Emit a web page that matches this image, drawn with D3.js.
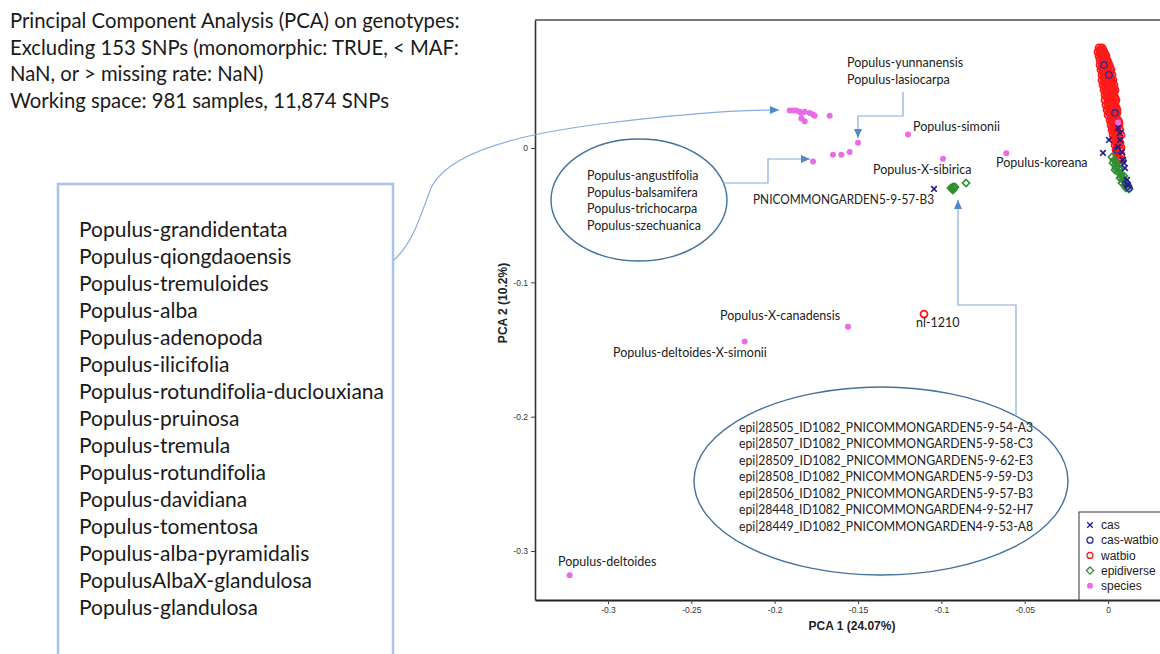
<!DOCTYPE html>
<html>
<head>
<meta charset="utf-8">
<script src="https://cdn.jsdelivr.net/npm/d3@7"></script>
<style>
  body { margin: 0; background: #fff; }
  svg { display: block; }
</style>
</head>
<body>
<div id="chart"></div>
<script>
const W = 1160, H = 654;

// ---- data (PCA 1, PCA 2) ----
const xTicks = [-0.3, -0.25, -0.2, -0.15, -0.1, -0.05, 0];
const yTicks = [0, -0.1, -0.2, -0.3];
const legendKeys = ["cas", "cas-watbio", "watbio", "epidiverse", "species"];

const species = [
  [-0.191, 0.028], [-0.189, 0.028], [-0.187, 0.028], [-0.185, 0.027], [-0.184, 0.026],
  [-0.182, 0.027], [-0.179, 0.026], [-0.177, 0.025], [-0.176, 0.024], [-0.184, 0.022],
  [-0.182, 0.020], [-0.167, 0.024],
  [-0.177, -0.010], [-0.165, -0.005], [-0.160, -0.005], [-0.155, -0.003], [-0.150, 0.004],
  [-0.120, 0.010], [-0.099, -0.008], [-0.061, -0.004],
  [-0.156, -0.133], [-0.218, -0.144], [-0.323, -0.318],
  [0.006, 0.019]
];

const watbio = [
  [-0.1104, -0.1236],
  [-0.0054, 0.0745], [-0.0036, 0.0745],
  [-0.0048, 0.0730], [-0.0030, 0.0730],
  [-0.0060, 0.0715], [-0.0042, 0.0715], [-0.0024, 0.0715],
  [-0.0048, 0.0700], [-0.0036, 0.0700], [-0.0018, 0.0700],
  [-0.0054, 0.0685], [-0.0030, 0.0685], [-0.0012, 0.0685],
  [-0.0042, 0.0670], [-0.0018, 0.0670],
  [-0.0048, 0.0655], [-0.0024, 0.0655], [-0.0006, 0.0655],
  [-0.0036, 0.0637], [-0.0018, 0.0637], [0.0000, 0.0637],
  [-0.0048, 0.0618], [-0.0030, 0.0618], [-0.0012, 0.0618], [0.0006, 0.0618],
  [-0.0036, 0.0600], [-0.0018, 0.0600], [0.0012, 0.0600],
  [-0.0042, 0.0581], [-0.0024, 0.0581], [0.0000, 0.0581], [0.0018, 0.0581],
  [-0.0030, 0.0563], [-0.0012, 0.0563], [0.0012, 0.0563],
  [-0.0036, 0.0544], [-0.0018, 0.0544], [0.0006, 0.0544], [0.0024, 0.0544],
  [-0.0024, 0.0525], [0.0000, 0.0525], [0.0018, 0.0525],
  [-0.0036, 0.0506], [-0.0012, 0.0506], [0.0012, 0.0506], [0.0030, 0.0506],
  [-0.0024, 0.0488], [0.0006, 0.0488], [0.0024, 0.0488],
  [-0.0030, 0.0469], [-0.0006, 0.0469], [0.0018, 0.0469], [0.0036, 0.0469],
  [-0.0018, 0.0450], [0.0012, 0.0450], [0.0030, 0.0450],
  [-0.0024, 0.0432], [0.0000, 0.0432], [0.0024, 0.0432], [0.0042, 0.0432],
  [-0.0012, 0.0413], [0.0012, 0.0413], [0.0036, 0.0413],
  [-0.0018, 0.0395], [0.0006, 0.0395], [0.0030, 0.0395],
  [-0.0006, 0.0376], [0.0018, 0.0376], [0.0042, 0.0376],
  [-0.0018, 0.0357], [0.0006, 0.0357], [0.0030, 0.0357], [0.0048, 0.0357],
  [0.0000, 0.0339], [0.0024, 0.0339], [0.0042, 0.0339],
  [-0.0012, 0.0320], [0.0012, 0.0320], [0.0036, 0.0320],
  [0.0000, 0.0302], [0.0024, 0.0302], [0.0048, 0.0302],
  [-0.0006, 0.0283], [0.0018, 0.0283], [0.0042, 0.0283], [0.0054, 0.0283],
  [0.0006, 0.0264], [0.0030, 0.0264], [0.0054, 0.0264],
  [0.0000, 0.0246], [0.0024, 0.0246], [0.0048, 0.0246],
  [0.0018, 0.0227], [0.0042, 0.0227],
  [0.0012, 0.0208], [0.0036, 0.0208], [0.0060, 0.0208],
  [0.0024, 0.0190], [0.0048, 0.0190], [0.0066, 0.0190],
  [0.0018, 0.0171], [0.0042, 0.0171], [0.0066, 0.0171],
  [0.0030, 0.0153], [0.0054, 0.0153],
  [0.0024, 0.0134], [0.0048, 0.0134], [0.0072, 0.0134],
  [0.0036, 0.0115], [0.0060, 0.0115],
  [0.0030, 0.0097], [0.0054, 0.0097], [0.0078, 0.0097],
  [0.0042, 0.0078], [0.0066, 0.0078],
  [0.0036, 0.0060], [0.0060, 0.0060],
  [0.0048, 0.0041], [0.0072, 0.0041],
  [0.0042, 0.0022], [0.0066, 0.0022],
  [0.0054, 0.0004], [0.0078, 0.0004],
  [0.0048, -0.0015], [0.0072, -0.0015],
  [0.0060, -0.0034],
  [0.0054, -0.0052], [0.0078, -0.0052],
  [0.0066, -0.0071],
  [0.0060, -0.0089], [0.0084, -0.0089]
];

const casWatbio = [
  [-0.0024, 0.0618], [0.0006, 0.0544], [0.0042, 0.0261], [0.0054, -0.0015],
  [0.0108, -0.0261], [0.0120, -0.0283], [0.0126, -0.0298]
];

const cas = [
  [-0.1044, -0.0305],
  [0.0060, 0.0149], [0.0072, 0.0112], [0.0006, 0.0060], [-0.0030, -0.0037],
  [0.0072, 0.0060], [0.0060, 0.0007], [0.0084, -0.0030], [0.0090, -0.0089],
  [0.0096, -0.0112], [0.0102, -0.0149], [0.0114, -0.0238], [0.0120, -0.0276]
];

const epidiverse = [
  [-0.0942, -0.0298], [-0.0936, -0.0305], [-0.0930, -0.0290], [-0.0924, -0.0298],
  [-0.0918, -0.0290], [-0.0930, -0.0313], [-0.0852, -0.0261],
  [0.0024, -0.0067], [0.0036, -0.0089], [0.0054, -0.0104], [0.0030, -0.0112],
  [0.0042, -0.0127], [0.0054, -0.0134], [0.0048, -0.0149], [0.0066, -0.0149],
  [0.0042, -0.0164], [0.0072, -0.0164], [0.0060, -0.0179], [0.0078, -0.0194],
  [0.0096, -0.0209], [0.0084, -0.0216], [0.0072, -0.0224], [0.0090, -0.0238],
  [0.0102, -0.0246], [0.0084, -0.0261], [0.0102, -0.0276], [0.0114, -0.0290],
  [0.0108, -0.0298], [0.0126, -0.0305]
];

const titleLines = [
  "Principal Component Analysis (PCA) on genotypes:",
  "Excluding 153 SNPs (monomorphic: TRUE, < MAF:",
  "NaN, or > missing rate: NaN)",
  "Working space: 981 samples, 11,874 SNPs"
];

const boxSpecies = [
  "Populus-grandidentata", "Populus-qiongdaoensis", "Populus-tremuloides", "Populus-alba",
  "Populus-adenopoda", "Populus-ilicifolia", "Populus-rotundifolia-duclouxiana",
  "Populus-pruinosa", "Populus-tremula", "Populus-rotundifolia", "Populus-davidiana",
  "Populus-tomentosa", "Populus-alba-pyramidalis", "PopulusAlbaX-glandulosa",
  "Populus-glandulosa"
];

const ovalSpecies = [
  "Populus-angustifolia", "Populus-balsamifera", "Populus-trichocarpa", "Populus-szechuanica"
];

const epiSamples = [
  "epi|28505_ID1082_PNICOMMONGARDEN5-9-54-A3",
  "epi|28507_ID1082_PNICOMMONGARDEN5-9-58-C3",
  "epi|28509_ID1082_PNICOMMONGARDEN5-9-62-E3",
  "epi|28508_ID1082_PNICOMMONGARDEN5-9-59-D3",
  "epi|28506_ID1082_PNICOMMONGARDEN5-9-57-B3",
  "epi|28448_ID1082_PNICOMMONGARDEN4-9-52-H7",
  "epi|28449_ID1082_PNICOMMONGARDEN4-9-53-A8"
];

// ---- colours ----
const colors = {
  cas: "#1c1c86",
  "cas-watbio": "#2a2a9a",
  watbio: "#ff1a1a",
  epidiverse: "#2f8f2f",
  species: "#ea6be6"
};
const lineBlue = "#86acde";
const arrowBlue = "#4d88d0";
const ovalBlue = "#41719c";
const textFont = "Lato, 'Open Sans', sans-serif";
const chartFont = "'Liberation Sans', Arial, sans-serif";

// ---- scales ----
const plot = { left: 535, top: 20, right: 1162, bottom: 600 };
const x = d3.scaleLinear().domain([-0.3, 0]).range([608, 1108]);
const y = d3.scaleLinear().domain([0, -0.3]).range([148, 551]);

const svg = d3.select("#chart").append("svg")
  .attr("width", W)
  .attr("height", H);

svg.append("rect").attr("width", W).attr("height", H).attr("fill", "#fff");

// arrow head marker
svg.append("defs").append("marker")
  .attr("id", "arrow")
  .attr("markerUnits", "userSpaceOnUse")
  .attr("markerWidth", 10).attr("markerHeight", 10)
  .attr("refX", 9).attr("refY", 5)
  .attr("orient", "auto")
  .append("path")
  .attr("d", "M0,1 L9,5 L0,9 Z")
  .attr("fill", arrowBlue);

// ---- left-hand text ----
svg.append("g")
  .selectAll("text")
  .data(titleLines)
  .join("text")
  .attr("x", 10)
  .attr("y", (d, i) => 28 + i * 26.6)
  .attr("font-family", textFont)
  .attr("font-size", 20.3)
  .attr("fill", "#1a1a1a")
  .text(d => d);

svg.append("rect")
  .attr("x", 58).attr("y", 184)
  .attr("width", 335).attr("height", 520)
  .attr("fill", "none")
  .attr("stroke", "#a9c3ea")
  .attr("stroke-width", 2.5);

svg.append("g")
  .selectAll("text")
  .data(boxSpecies)
  .join("text")
  .attr("x", 79)
  .attr("y", (d, i) => 236.5 + i * 27)
  .attr("font-family", textFont)
  .attr("font-size", 21)
  .attr("fill", "#1a1a1a")
  .text(d => d);

// ---- axes and frame ----
const fmt = d => String(+d.toFixed(2));

const xAxisScale = x.copy()
  .domain([x.invert(plot.left), x.invert(plot.right)])
  .range([plot.left, plot.right]);
const yAxisScale = y.copy()
  .domain([y.invert(plot.top), y.invert(plot.bottom)])
  .range([plot.top, plot.bottom]);

svg.append("line")
  .attr("x1", plot.left).attr("x2", plot.right)
  .attr("y1", plot.top).attr("y2", plot.top)
  .attr("stroke", "#7a7a7a")
  .attr("stroke-width", 2);

svg.append("g")
  .attr("transform", `translate(0,${plot.bottom})`)
  .call(d3.axisBottom(xAxisScale).tickValues(xTicks).tickSize(4).tickSizeOuter(0).tickFormat(fmt))
  .call(g => {
    g.attr("font-family", chartFont).attr("font-size", 8.5);
    g.select(".domain").attr("stroke", "#222").attr("stroke-width", 1.8);
    g.selectAll(".tick line").attr("stroke", "#444");
    g.selectAll(".tick text").attr("fill", "#333");
  });

svg.append("g")
  .attr("transform", `translate(${plot.left},0)`)
  .call(d3.axisLeft(yAxisScale).tickValues(yTicks).tickSize(4).tickSizeOuter(0).tickFormat(fmt))
  .call(g => {
    g.attr("font-family", chartFont).attr("font-size", 8.5);
    g.select(".domain").attr("stroke", "#333").attr("stroke-width", 1.6);
    g.selectAll(".tick line").attr("stroke", "#444");
    g.selectAll(".tick text").attr("fill", "#333");
  });

svg.append("text")
  .attr("x", 852).attr("y", 630)
  .attr("text-anchor", "middle")
  .attr("font-family", chartFont)
  .attr("font-size", 12)
  .attr("font-weight", "bold")
  .attr("fill", "#222")
  .text("PCA 1 (24.07%)");

svg.append("text")
  .attr("transform", "translate(507,303) rotate(-90)")
  .attr("text-anchor", "middle")
  .attr("font-family", chartFont)
  .attr("font-size", 12)
  .attr("font-weight", "bold")
  .attr("fill", "#222")
  .text("PCA 2 (10.2%)");

// ---- marker shapes ----
const shape = {
  cas: s => `M${-s},${-s}L${s},${s}M${-s},${s}L${s},${-s}`,
  circle: r => d3.symbol(d3.symbolCircle, Math.PI * r * r)(),
  diamond: s => `M0,${-s}L${s},0L0,${s}L${-s},0Z`
};

const pts = svg.append("g");

pts.append("g").selectAll("path")
  .data(watbio).join("path")
  .attr("transform", d => `translate(${x(d[0])},${y(d[1])})`)
  .attr("d", shape.circle(3.5))
  .attr("fill", "none")
  .attr("stroke", colors.watbio)
  .attr("stroke-width", 1.8);

pts.append("g").selectAll("path")
  .data(epidiverse).join("path")
  .attr("transform", d => `translate(${x(d[0])},${y(d[1])})`)
  .attr("d", shape.diamond(3.6))
  .attr("fill", "none")
  .attr("stroke", colors.epidiverse)
  .attr("stroke-width", 1.6);

pts.append("g").selectAll("path")
  .data(casWatbio).join("path")
  .attr("transform", d => `translate(${x(d[0])},${y(d[1])})`)
  .attr("d", shape.circle(3.2))
  .attr("fill", "none")
  .attr("stroke", colors["cas-watbio"])
  .attr("stroke-width", 1.3);

pts.append("g").selectAll("path")
  .data(cas).join("path")
  .attr("transform", d => `translate(${x(d[0])},${y(d[1])})`)
  .attr("d", shape.cas(2.8))
  .attr("fill", "none")
  .attr("stroke", colors.cas)
  .attr("stroke-width", 1.6);

pts.append("g").selectAll("circle")
  .data(species).join("circle")
  .attr("cx", d => x(d[0]))
  .attr("cy", d => y(d[1]))
  .attr("r", 3)
  .attr("fill", colors.species);

// ---- legend ----
const legend = svg.append("g").attr("transform", "translate(1079,512)");
legend.append("rect")
  .attr("width", 100).attr("height", 88)
  .attr("fill", "#fff")
  .attr("stroke", "#333")
  .attr("stroke-width", 1);

const legendShape = {
  cas: shape.cas(2.8),
  "cas-watbio": shape.circle(3),
  watbio: shape.circle(3),
  epidiverse: shape.diamond(3.6),
  species: shape.circle(3)
};

const item = legend.selectAll("g.item")
  .data(legendKeys).join("g")
  .attr("class", "item")
  .attr("transform", (d, i) => `translate(11,${13 + i * 15.2})`);

item.append("path")
  .attr("d", d => legendShape[d])
  .attr("fill", d => d === "species" ? colors.species : "none")
  .attr("stroke", d => d === "species" ? "none" : colors[d])
  .attr("stroke-width", 1.3);

item.append("text")
  .attr("x", 11)
  .attr("dy", "0.35em")
  .attr("font-family", chartFont)
  .attr("font-size", 12)
  .attr("fill", "#222")
  .text(d => d);

// ---- annotations ----
const ann = svg.append("g").attr("font-family", textFont).attr("fill", "#222");

const labels = [
  ["Populus-yunnanensis", 847, 63],
  ["Populus-lasiocarpa", 847, 80],
  ["Populus-simonii", 913, 127],
  ["Populus-X-sibirica", 873, 170],
  ["Populus-koreana", 996, 163],
  ["Populus-X-canadensis", 720, 316],
  ["Populus-deltoides-X-simonii", 613, 353],
  ["nl-1210", 916, 323],
  ["Populus-deltoides", 558, 562]
];

ann.selectAll("text.lbl")
  .data(labels).join("text")
  .attr("class", "lbl")
  .attr("x", d => d[1])
  .attr("y", d => d[2] + 4.4)
  .attr("font-size", 12.5)
  .text(d => d[0]);

ann.append("text")
  .attr("x", 753).attr("y", 204.4)
  .attr("font-size", 12.5)
  .attr("textLength", 181)
  .attr("lengthAdjust", "spacingAndGlyphs")
  .text("PNICOMMONGARDEN5-9-57-B3");

// small oval
ann.append("ellipse")
  .attr("cx", 639).attr("cy", 200).attr("rx", 88).attr("ry", 61)
  .attr("fill", "none").attr("stroke", ovalBlue).attr("stroke-width", 1.4);

ann.selectAll("text.oval")
  .data(ovalSpecies).join("text")
  .attr("class", "oval")
  .attr("x", 587)
  .attr("y", (d, i) => 180.3 + i * 16.5)
  .attr("font-size", 12.5)
  .text(d => d);

// big oval
ann.append("ellipse")
  .attr("cx", 881).attr("cy", 481).attr("rx", 187).attr("ry", 94)
  .attr("fill", "none").attr("stroke", ovalBlue).attr("stroke-width", 1.4);

ann.selectAll("text.epi")
  .data(epiSamples).join("text")
  .attr("class", "epi")
  .attr("x", 739)
  .attr("y", (d, i) => 431.5 + i * 16.5)
  .attr("font-size", 13)
  .attr("textLength", 294)
  .attr("lengthAdjust", "spacingAndGlyphs")
  .text(d => d);

// connectors
const connectors = [
  "M394,260 C416,240 423,206 432,186 C450,152 520,134 600,124 C680,114 740,110 779,110",
  "M723,183 H768 V159 H810",
  "M903,92 V116 H858 V138",
  "M1016,416 V305 H958 V200"
];

ann.selectAll("path.conn")
  .data(connectors).join("path")
  .attr("class", "conn")
  .attr("d", d => d)
  .attr("fill", "none")
  .attr("stroke", lineBlue)
  .attr("stroke-width", 1.2)
  .attr("marker-end", "url(#arrow)");
</script>
</body>
</html>
